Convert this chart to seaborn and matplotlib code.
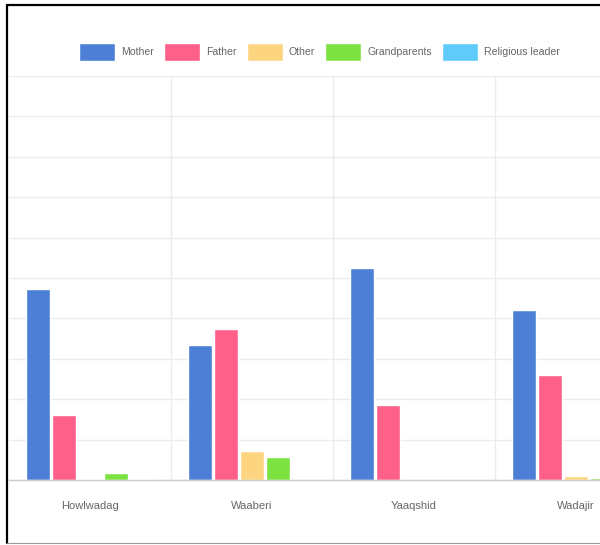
import numpy as np
import pandas as pd
import matplotlib
matplotlib.use("Agg")
import matplotlib.pyplot as plt
from matplotlib.lines import Line2D
import seaborn as sns

# Districts and caregiver groups
districts = ["Howlwadag", "Waaberi", "Yaaqshid", "Wadajir"]
caregivers = ["Mother", "Father", "Other", "Grandparents", "Religious leader"]

# Share of responses per caregiver group in each district
mother = [47.3, 33.5, 52.4, 42.2]
father = [16.0, 37.4, 18.5, 26.0]
other = [0.3, 7.3, 0.0, 1.0]
grandparents = [1.8, 5.6, 0.0, 0.5]
religious_leader = [0.3, 0.0, 0.0, 0.0]

colors = ["#4e7fd6", "#fe6089", "#fdd581", "#7ce23f", "#5fcbfa"]
y_ticks = np.arange(0, 101, 10)

series = [mother, father, other, grandparents, religious_leader]
df = pd.DataFrame({
    "district": [d for _ in caregivers for d in districts],
    "caregiver": [c for c in caregivers for _ in districts],
    "value": [v for s in series for v in s],
})

sns.set_theme(style="white")
plt.rcParams["font.family"] = ["Liberation Sans", "DejaVu Sans"]

W, H = 600, 545
fig = plt.figure(figsize=(W / 100, H / 100), dpi=100)
fig.patch.set_facecolor("white")

# plot area: left edge at x=9px, baseline at y=480px, top grid line at y=76px
ax = fig.add_axes([9 / W, (H - 480) / H, (W - 9) / W, 404 / H])

sns.barplot(
    data=df, x="district", y="value", hue="caregiver",
    order=districts, hue_order=caregivers, palette=colors,
    width=0.8, gap=0.1, saturation=1, errorbar=None, ax=ax,
)

handles, labels = ax.get_legend_handles_labels()
if ax.get_legend() is not None:
    ax.get_legend().remove()

ax.set_yticks(y_ticks)
ax.set_xticks([0.5, 1.5, 2.5], minor=True)
ax.set_xlim(-0.5, -0.5 + (W - 9) / 162)
ax.set_ylim(0, 100)
ax.set_xlabel("")
ax.set_ylabel("")

ax.set_axisbelow(True)
ax.yaxis.grid(True, color="#ececec", lw=1)
ax.xaxis.grid(True, which="minor", color="#ececec", lw=1)
ax.xaxis.grid(False, which="major")
ax.tick_params(axis="y", left=False, labelleft=False)
ax.tick_params(axis="x", which="major", length=0, pad=15,
               labelsize=8, labelcolor="#666666")
ax.tick_params(axis="x", which="minor", length=10, width=1,
               color="#ececec", direction="out")

for side in ["left", "right", "top"]:
    ax.spines[side].set_visible(False)
ax.spines["bottom"].set_color("#cccccc")
ax.spines["bottom"].set_linewidth(1)

fig.legend(
    handles, labels, loc="center", bbox_to_anchor=(319.5 / W, (H - 52) / H),
    ncol=5, frameon=False, fontsize=7.6, labelcolor="#666666",
    handlelength=3.4, handleheight=2.3, handletextpad=0.6,
    columnspacing=0.95, borderaxespad=0,
)

# frame around the figure
fig.add_artist(Line2D([7 / W, 7 / W], [2 / H, (H - 5) / H],
                      color="black", lw=1.6, transform=fig.transFigure))
fig.add_artist(Line2D([7 / W, 1], [(H - 5) / H, (H - 5) / H],
                      color="black", lw=1.6, transform=fig.transFigure))
fig.add_artist(Line2D([7 / W, 1], [2 / H, 2 / H],
                      color="#999999", lw=0.8, transform=fig.transFigure))

fig.savefig("out.png", dpi=100)
